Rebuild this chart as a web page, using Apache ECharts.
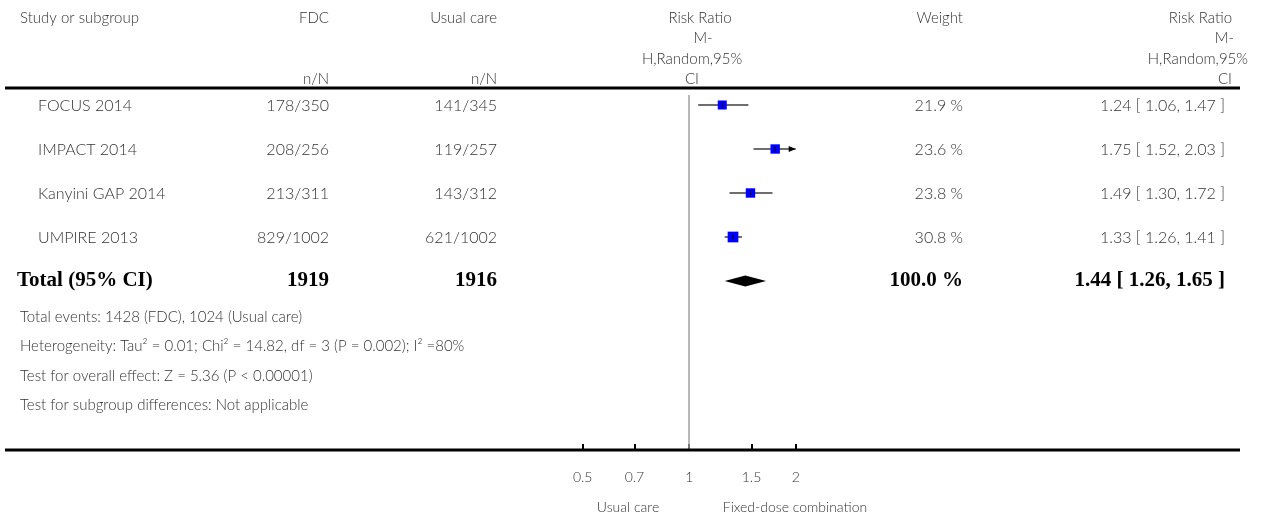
<!DOCTYPE html>
<html>
<head>
<meta charset="utf-8">
<script src="https://cdn.jsdelivr.net/npm/echarts@6/dist/echarts.min.js"></script>
<style>
html,body{margin:0;padding:0;background:#fff;}
#chart{width:1268px;height:518px;}
</style>
</head>
<body>
<div id="chart"></div>
<script>
// ---- data ----
const studies = ['FOCUS 2014', 'IMPACT 2014', 'Kanyini GAP 2014', 'UMPIRE 2013'];
const fdcEvents = ['178/350', '208/256', '213/311', '829/1002'];
const usualEvents = ['141/345', '119/257', '143/312', '621/1002'];
const rr = [1.24, 1.75, 1.49, 1.33];
const rrLow = [1.06, 1.52, 1.30, 1.26];
const rrHigh = [1.47, 2.03, 1.72, 1.41];
const weights = [21.9, 23.6, 23.8, 30.8];
const totalLabel = 'Total (95% CI)';
const totalFdc = 1919;
const totalUsual = 1916;
const totalRR = [1.44, 1.26, 1.65];
const totalWeight = 100.0;
const tickValues = [0.5, 0.7, 1, 1.5, 2];
const tickLabels = ['0.5', '0.7', '1', '1.5', '2'];
const axisMin = 0.5, axisMax = 2;
const favoursLeft = 'Usual care';
const favoursRight = 'Fixed-dose combination';
const headers = ['Study or subgroup', 'FDC', 'Usual care', 'Weight'];
const subHeaders = ['n/N', 'n/N'];
const rrHeaderLines = ['Risk Ratio', 'M-', 'H,Random,95%', 'CI'];
const footnotes = [
  'Total events: 1428 (FDC), 1024 (Usual care)',
  'Heterogeneity: Tau² = 0.01; Chi² = 14.82, df = 3 (P = 0.002); I² =80%',
  'Test for overall effect: Z = 5.36 (P < 0.00001)',
  'Test for subgroup differences: Not applicable'
];

// ---- layout ----
const L = Math.log10;
const rowTop = 105, rowH = 44;
const gridTop = 95, gridBottomY = 450;
const plotLeft = 582.7, plotWidth = 213;
const font = '300 16px Lato';
const headFont = '300 15px Lato';
const txtColor = '#333';
const boldFont = 'bold 21px "Liberation Serif"';
const colLeft = 20, nameLeft = 38, fdcRight = 329, usualRight = 497, weightRight = 963, rrRight = 1225;

const chart = echarts.init(document.getElementById('chart'), null, {renderer: 'canvas'});

function rowY(i) { return rowTop + i * rowH; }
function txt(x, y, text, align, f, color) {
  return {type: 'text', x: x, y: y, silent: true,
    style: {text: text, font: f || font, fill: color || txtColor, textAlign: align || 'left', textVerticalAlign: 'middle'}};
}

const g = [];
// header
const hy = [18, 38.5, 59, 79];
g.push(txt(colLeft, hy[0], headers[0], 'left', headFont));
g.push(txt(fdcRight, hy[0], headers[1], 'right', headFont));
g.push(txt(usualRight, hy[0], headers[2], 'right', headFont));
g.push(txt(fdcRight, hy[3], subHeaders[0], 'right', headFont));
g.push(txt(usualRight, hy[3], subHeaders[1], 'right', headFont));
g.push(txt(weightRight, hy[0], headers[3], 'right', headFont));
const midCenter = [700, 703, 692, 692];
rrHeaderLines.forEach((t, k) => g.push(txt(midCenter[k], hy[k], t, 'center', headFont)));
const rRight = [1232, 1234, 1248, 1232];
rrHeaderLines.forEach((t, k) => g.push(txt(rRight[k], hy[k], t, 'right', headFont)));
// rule lines
g.push({type: 'line', silent: true, shape: {x1: 5, y1: 88, x2: 1240, y2: 88}, style: {stroke: '#000', lineWidth: 3}});
g.push({type: 'line', silent: true, shape: {x1: 5, y1: gridBottomY, x2: 1240, y2: gridBottomY}, style: {stroke: '#000', lineWidth: 3}, z: 10});
// rows
studies.forEach((s, i) => {
  const y = rowY(i) + 1;
  g.push(txt(nameLeft, y, s, 'left'));
  g.push(txt(fdcRight, y, fdcEvents[i], 'right'));
  g.push(txt(usualRight, y, usualEvents[i], 'right'));
  g.push(txt(weightRight, y, weights[i].toFixed(1) + ' %', 'right'));
  g.push(txt(rrRight, y, rr[i].toFixed(2) + ' [ ' + rrLow[i].toFixed(2) + ', ' + rrHigh[i].toFixed(2) + ' ]', 'right'));
});
const ty = rowY(studies.length);
g.push(txt(colLeft - 3, ty, totalLabel, 'left', boldFont, '#000'));
g.push(txt(fdcRight, ty, String(totalFdc), 'right', boldFont, '#000'));
g.push(txt(usualRight, ty, String(totalUsual), 'right', boldFont, '#000'));
g.push(txt(weightRight, ty, totalWeight.toFixed(1) + ' %', 'right', boldFont, '#000'));
g.push(txt(rrRight, ty, totalRR[0].toFixed(2) + ' [ ' + totalRR[1].toFixed(2) + ', ' + totalRR[2].toFixed(2) + ' ]', 'right', boldFont, '#000'));
footnotes.forEach((t, k) => g.push(txt(colLeft, 317 + k * 29.5, t, 'left', headFont)));
g.push(txt(628, 507, favoursLeft, 'center', '300 14px Lato'));
g.push(txt(795, 507, favoursRight, 'center', '300 14px Lato'));

const studyData = studies.map((s, i) => [L(rr[i]), L(rrLow[i]), L(rrHigh[i]), weights[i], i]);
const totalData = [[L(totalRR[0]), L(totalRR[1]), L(totalRR[2]), totalWeight, studies.length]];
const xMin = L(axisMin), xMax = L(axisMax);

chart.setOption({
  animation: false,
  backgroundColor: '#fff',
  grid: {left: plotLeft, width: plotWidth, top: gridTop, bottom: 518 - gridBottomY, containLabel: false},
  xAxis: {
    type: 'value', min: xMin, max: xMax, position: 'bottom',
    axisLine: {show: false, onZero: false},
    splitLine: {show: false},
    axisTick: {show: true, inside: true, length: 6, customValues: tickValues.map(L), lineStyle: {color: '#000', width: 2}},
    axisLabel: {show: true, margin: 20, customValues: tickValues.map(L), color: txtColor, fontFamily: 'Lato', fontWeight: 300, fontSize: 14,
      formatter: function (v) { let k = 0, best = 1e9; tickValues.forEach((t, j) => { const d = Math.abs(L(t) - v); if (d < best) { best = d; k = j; } }); return tickLabels[k]; }}
  },
  yAxis: {
    type: 'value', inverse: true,
    min: -(rowTop - gridTop) / rowH, max: (gridBottomY - rowTop) / rowH,
    show: false
  },
  series: [
    {
      type: 'custom', data: studyData, clip: false,
      renderItem: function (params, api) {
        const est = api.value(0), lo = api.value(1), hi = api.value(2), w = api.value(3), row = api.value(4);
        const loC = Math.max(lo, xMin), hiC = Math.min(hi, xMax);
        const p0 = api.coord([loC, row]), p1 = api.coord([hiC, row]), pe = api.coord([est, row]);
        const sz = 1.93 * Math.sqrt(w);
        const ch = [
          {type: 'line', shape: {x1: p0[0], y1: p0[1], x2: p1[0], y2: p1[1]}, style: {stroke: '#6e6e6e', lineWidth: 2}},
          {type: 'rect', shape: {x: pe[0] - sz / 2, y: pe[1] - sz / 2, width: sz, height: sz}, style: {fill: '#0000ff'}},
          {type: 'line', shape: {x1: pe[0], y1: pe[1] - 2.5, x2: pe[0], y2: pe[1] + 2.5}, style: {stroke: '#000', lineWidth: 1}}
        ];
        if (hi > xMax) {
          ch.push({type: 'polygon', shape: {points: [[p1[0], p1[1]], [p1[0] - 7, p1[1] - 3], [p1[0] - 7, p1[1] + 3]]}, style: {fill: '#000'}});
        }
        if (lo < xMin) {
          ch.push({type: 'polygon', shape: {points: [[p0[0], p0[1]], [p0[0] + 7, p0[1] - 3], [p0[0] + 7, p0[1] + 3]]}, style: {fill: '#000'}});
        }
        return {type: 'group', children: ch};
      },
      markLine: {
        silent: true, symbol: ['none', 'none'], label: {show: false},
        lineStyle: {color: '#a0a0a0', width: 1.5, type: 'solid'},
        data: [{xAxis: L(1)}]
      },
      z: 5
    },
    {
      type: 'custom', data: totalData, clip: false,
      renderItem: function (params, api) {
        const est = api.value(0), lo = api.value(1), hi = api.value(2), row = api.value(4);
        const a = api.coord([lo, row]), b = api.coord([est, row]), c = api.coord([hi, row]);
        const h = 5.5;
        return {type: 'polygon', shape: {points: [[a[0], a[1]], [b[0], b[1] - h], [c[0], c[1]], [b[0], b[1] + h]]}, style: {fill: '#000'}};
      },
      z: 5
    }
  ],
  graphic: {elements: g}
});
</script>
</body>
</html>
